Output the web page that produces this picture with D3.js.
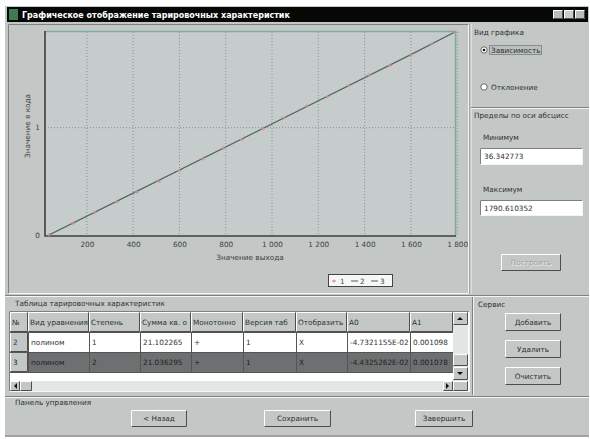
<!DOCTYPE html>
<html>
<head>
<meta charset="utf-8">
<script src="https://cdn.jsdelivr.net/npm/d3@7"></script>
<style>
  body { margin: 0; background: #fff; }
  svg { display: block; font-family: "DejaVu Sans", "Liberation Sans", sans-serif; font-size: 7.3px; }
</style>
</head>
<body>
<svg width="590" height="439"></svg>
<script>
// axis
const xLimits = [36.342773, 1790.610352];
const yLimits = [0, 1.9];
const xTickValues = [200, 400, 600, 800, 1000, 1200, 1400, 1600, 1800];
const xTickLabels = ['200', '400', '600', '800', '1 000', '1 200', '1 400', '1 600', '1 800'];
const yTickValues = [0, 1];
const yTickLabels = ['0', '1'];

// series 1: points (markers)
const pointX = [36, 140, 235, 330, 415, 510, 600, 700, 790, 870, 960, 1050, 1150, 1240, 1330, 1420, 1510, 1600, 1690, 1790];
const pointY = [0.00, 0.11, 0.21, 0.31, 0.40, 0.50, 0.60, 0.71, 0.81, 0.89, 0.99, 1.09, 1.20, 1.29, 1.39, 1.49, 1.58, 1.68, 1.78, 1.89];
// series 2 and 3: fitted curves
const fit2X = [36, 400, 800, 1200, 1600, 1790];
const fit2Y = [0.00, 0.39, 0.82, 1.25, 1.68, 1.89];
const fit3X = [36, 400, 800, 1200, 1600, 1790];
const fit3Y = [0.00, 0.39, 0.82, 1.25, 1.68, 1.89];
const legendNames = ['1', '2', '3'];

// table
const columns = ['№', 'Вид уравнения', 'Степень', 'Сумма кв. о', 'Монотонно', 'Версия таб', 'Отобразить', 'A0', 'A1'];
const rowNo = ['2', '3'];
const rowType = ['полином', 'полином'];
const rowDegree = ['1', '2'];
const rowSum = ['21.102265', '21.036295'];
const rowMono = ['+', '+'];
const rowVersion = ['1', '1'];
const rowShow = ['X', 'X'];
const rowA0 = ['-4.7321155E-02', '-4.4325262E-02'];
const rowA1 = ['0.001098', '0.001078'];

const GRAY = '#c3c8c7';
const INK = '#2e3232';
const svg = d3.select('svg');

function bevel(x, y, w, h, raised, fill) {
  const g = svg.append('g');
  g.append('rect').attr('x', x).attr('y', y).attr('width', w).attr('height', h).attr('fill', fill || GRAY);
  g.append('path').attr('d', `M${x + 0.5},${y + h - 0.5}V${y + 0.5}H${x + w - 0.5}`)
    .attr('fill', 'none').attr('stroke', raised ? '#fff' : '#7c8080');
  g.append('path').attr('d', `M${x + 0.5},${y + h - 0.5}H${x + w - 0.5}V${y + 0.5}`)
    .attr('fill', 'none').attr('stroke', raised ? '#4a4e4e' : '#f4f4f4');
  return g;
}

function button(x, y, w, h, label, disabled) {
  bevel(x, y, w, h, true);
  if (disabled) {
    svg.append('text').attr('x', x + w / 2 + 0.7).attr('y', y + h / 2 + 3.3).attr('text-anchor', 'middle')
      .attr('fill', '#f2f2f2').text(label);
  }
  svg.append('text').attr('x', x + w / 2).attr('y', y + h / 2 + 2.6).attr('text-anchor', 'middle')
    .attr('fill', disabled ? '#9a9e9e' : INK).text(label);
}

function label(x, y, t, anchor) {
  return svg.append('text').attr('x', x).attr('y', y).attr('text-anchor', anchor || 'start').attr('fill', INK).text(t);
}

// window
svg.append('rect').attr('x', 5).attr('y', 6).attr('width', 584).attr('height', 431).attr('fill', GRAY);
svg.append('rect').attr('x', 7).attr('y', 7).attr('width', 581).attr('height', 15).attr('fill', '#060806');
svg.append('rect').attr('x', 9).attr('y', 9).attr('width', 9).attr('height', 11).attr('fill', '#3f7a52');
svg.append('text').attr('x', 22).attr('y', 18).attr('fill', '#fff').attr('font-size', 8).attr('font-weight', 'bold')
  .text('Графическое отображение тарировочных характеристик');
[553, 564, 575].forEach((bx, i) => {
  bevel(bx, 10, 10, 9, true, i === 1 ? '#c8cccc' : '#b8bcbc');
});

// panels
bevel(8, 24, 461, 270, false);
svg.append('line').attr('x1', 470).attr('x2', 470).attr('y1', 24).attr('y2', 294).attr('stroke', '#7c8080');
svg.append('line').attr('x1', 471).attr('x2', 471).attr('y1', 24).attr('y2', 294).attr('stroke', '#f4f4f4');

// chart
const x = d3.scaleLinear().domain(xLimits).range([49, 455]);
const y = d3.scaleLinear().domain(yLimits).range([235, 31]);
const plot = svg.append('g');

plot.append('rect').attr('x', 45).attr('y', 31).attr('width', 410).attr('height', 205).attr('fill', '#c6cccb');

plot.append('g')
  .selectAll('line')
  .data(xTickValues)
  .join('line')
  .attr('x1', (d) => x(d)).attr('x2', (d) => x(d))
  .attr('y1', 32).attr('y2', 236)
  .attr('stroke', '#8a9090').attr('stroke-dasharray', '1,2');

plot.append('g')
  .selectAll('line')
  .data(yTickValues.filter((d) => d > 0))
  .join('line')
  .attr('x1', 45).attr('x2', 455)
  .attr('y1', (d) => y(d)).attr('y2', (d) => y(d))
  .attr('stroke', '#8a9090').attr('stroke-dasharray', '1,2');

// frame top/right
plot.append('path').attr('d', 'M45,31.5H455.5V236').attr('fill', 'none').attr('stroke', '#7faaa0').attr('stroke-width', 1.5);

const xAxis = plot.append('g').attr('transform', 'translate(0,236)')
  .call(d3.axisBottom(x).tickValues(xTickValues).tickSize(0).tickPadding(6)
    .tickFormat((d, i) => xTickLabels[i]))
  .attr('font-size', null).attr('font-family', null);
xAxis.select('.domain').remove();
xAxis.selectAll('text').attr('fill', '#3a3e3e');

const yAxis = plot.append('g').attr('transform', 'translate(45,0)')
  .call(d3.axisLeft(y).tickValues(yTickValues).tickSize(0).tickPadding(5)
    .tickFormat((d, i) => yTickLabels[i]))
  .attr('font-size', null).attr('font-family', null);
yAxis.select('.domain').remove();
yAxis.selectAll('text').attr('fill', '#3a3e3e');

plot.append('path').attr('d', 'M45,31V236H456').attr('fill', 'none').attr('stroke', '#3c4040').attr('stroke-width', 1.6);

svg.append('text').attr('x', 250).attr('y', 260).attr('text-anchor', 'middle').attr('fill', '#3a3e3e').text('Значение выхода');
svg.append('text').attr('transform', 'translate(30,126) rotate(-90)').attr('text-anchor', 'middle')
  .attr('fill', '#3a3e3e').text('Значение в кода');

const line = d3.line().x((d) => x(d[0])).y((d) => y(d[1]));
plot.append('path').datum(d3.zip(fit2X, fit2Y)).attr('d', line)
  .attr('fill', 'none').attr('stroke', '#5f7a70').attr('stroke-width', 1.2);
plot.append('path').datum(d3.zip(fit3X, fit3Y)).attr('d', line)
  .attr('fill', 'none').attr('stroke', '#58625f').attr('stroke-width', 0.8);
plot.append('g')
  .selectAll('path')
  .data(d3.zip(pointX, pointY))
  .join('path')
  .attr('d', (d) => `M${x(d[0]) - 2},${y(d[1])}h4M${x(d[0])},${y(d[1]) - 1.5}v3`)
  .attr('stroke', '#cf8a8a').attr('stroke-width', 1.2);

// legend
svg.append('rect').attr('x', 328.5).attr('y', 274.5).attr('width', 64).attr('height', 12).attr('fill', '#f6f8f8').attr('stroke', '#444');
const leg = svg.append('g').attr('transform', 'translate(331,283.5)');
legendNames.forEach((n, i) => {
  const lx = i * 20;
  if (i === 0) {
    leg.append('path').attr('d', `M${lx + 1},-2.5h4M${lx + 3},-4v3`).attr('stroke', '#cf8a8a').attr('stroke-width', 1.2);
  } else {
    leg.append('line').attr('x1', lx).attr('x2', lx + 7).attr('y1', -2.5).attr('y2', -2.5).attr('stroke', '#555');
  }
  leg.append('text').attr('x', lx + 9).attr('y', 0).attr('fill', '#444').text(n);
});

// right panel
label(474, 35, 'Вид графика');
svg.append('circle').attr('cx', 484).attr('cy', 50).attr('r', 3.2).attr('fill', '#fff').attr('stroke', '#666');
svg.append('circle').attr('cx', 484).attr('cy', 50).attr('r', 1.3).attr('fill', '#111');
svg.append('rect').attr('x', 489.5).attr('y', 45.5).attr('width', 52).attr('height', 9).attr('fill', '#b9bfbe')
  .attr('stroke', '#555').attr('stroke-dasharray', '1,1');
label(491, 52.5, 'Зависимость');
svg.append('circle').attr('cx', 484).attr('cy', 87).attr('r', 3.2).attr('fill', '#fff').attr('stroke', '#666');
label(491, 89.5, 'Отклонение');
svg.append('line').attr('x1', 471).attr('x2', 589).attr('y1', 107.5).attr('y2', 107.5).attr('stroke', '#7c8080');
svg.append('line').attr('x1', 471).attr('x2', 589).attr('y1', 108.5).attr('y2', 108.5).attr('stroke', '#f4f4f4');
label(474, 118, 'Пределы по оси абсцисс');
label(483, 140, 'Минимум');
bevel(480, 148, 103, 17, false, '#fff');
label(484, 159, String(xLimits[0]));
label(483, 192, 'Максимум');
bevel(480, 200, 103, 16, false, '#fff');
label(484, 211, xLimits[1].toFixed(6));
button(501, 254, 60, 17, 'Построить', true);

// lower area
svg.append('line').attr('x1', 5).attr('x2', 589).attr('y1', 295.5).attr('y2', 295.5).attr('stroke', '#7c8080');
svg.append('line').attr('x1', 5).attr('x2', 589).attr('y1', 296.5).attr('y2', 296.5).attr('stroke', '#f4f4f4');
label(15, 306, 'Таблица тарировочных характеристик');
label(478, 307, 'Сервис');
svg.append('line').attr('x1', 472.5).attr('x2', 472.5).attr('y1', 297).attr('y2', 395).attr('stroke', '#7c8080');
svg.append('line').attr('x1', 473.5).attr('x2', 473.5).attr('y1', 297).attr('y2', 395).attr('stroke', '#f4f4f4');

// table
const colEdges = [10, 28, 89, 140, 191, 243, 296, 347, 410, 453];
const rowTop = [332, 352];
const rowH = 20;
bevel(9, 311, 461, 81, false, '#fff');
svg.append('rect').attr('x', 10).attr('y', 312).attr('width', 443).attr('height', 20).attr('fill', GRAY);
const rows = d3.range(rowNo.length).map((i) =>
  [rowNo[i], rowType[i], rowDegree[i], rowSum[i], rowMono[i], rowVersion[i], rowShow[i], rowA0[i], rowA1[i]]);
const defs = svg.append('defs');
columns.forEach((c, j) => {
  defs.append('clipPath').attr('id', 'col' + j).append('rect')
    .attr('x', colEdges[j] + 1).attr('y', 300).attr('width', colEdges[j + 1] - colEdges[j] - 2).attr('height', 90);
});
rows.forEach((r, i) => {
  svg.append('rect').attr('x', 28).attr('y', rowTop[i]).attr('width', 425).attr('height', rowH)
    .attr('fill', i === 1 ? '#6d7070' : '#fff');
  bevel(10, rowTop[i], 18, rowH, true);
});
bevel(10, 312, 18, 20, true);
columns.forEach((c, j) => {
  if (j > 0) bevel(colEdges[j], 312, colEdges[j + 1] - colEdges[j], 20, true);
  svg.append('text').attr('x', colEdges[j] + 2).attr('y', 324.5).attr('fill', INK)
    .attr('clip-path', `url(#col${j})`).text(c);
  rows.forEach((r, i) => {
    svg.append('text').attr('x', colEdges[j] + 3).attr('y', rowTop[i] + 12.5).attr('fill', i === 1 ? '#1c1e1e' : INK)
      .attr('clip-path', `url(#col${j})`).text(r[j]);
  });
});
svg.append('g').selectAll('line').data(colEdges.slice(1, -1)).join('line')
  .attr('x1', (d) => d + 0.5).attr('x2', (d) => d + 0.5).attr('y1', 332).attr('y2', 372).attr('stroke', '#555');
svg.append('g').selectAll('line').data([332, 352, 372]).join('line')
  .attr('x1', 10).attr('x2', 453).attr('y1', (d) => d + 0.5).attr('y2', (d) => d + 0.5).attr('stroke', '#555');

// scrollbars
svg.append('rect').attr('x', 453).attr('y', 312).attr('width', 15).attr('height', 69).attr('fill', '#e3e6e6');
bevel(453, 312, 15, 13, true);
svg.append('path').attr('d', 'M457,320l3,-3l3,3z').attr('fill', '#111');
bevel(453, 354, 15, 12, true);
bevel(453, 367, 15, 13, true);
svg.append('path').attr('d', 'M457,372l3,3l3,-3z').attr('fill', '#111');
svg.append('rect').attr('x', 10).attr('y', 381).attr('width', 443).attr('height', 10).attr('fill', '#e3e6e6');
bevel(10, 381, 10, 10, true);
svg.append('path').attr('d', 'M17,383l-3,3l3,3z').attr('fill', '#111');
bevel(20, 381, 12, 10, true);
bevel(443, 381, 10, 10, true);
svg.append('path').attr('d', 'M446,383l3,3l-3,3z').attr('fill', '#111');
bevel(453, 381, 15, 10, true);

button(505, 313, 56, 18, 'Добавить');
button(505, 340, 56, 18, 'Удалить');
button(505, 367, 56, 18, 'Очистить');

// control panel
svg.append('line').attr('x1', 5).attr('x2', 589).attr('y1', 396.5).attr('y2', 396.5).attr('stroke', '#7c8080');
svg.append('line').attr('x1', 5).attr('x2', 589).attr('y1', 397.5).attr('y2', 397.5).attr('stroke', '#f4f4f4');
label(15, 405, 'Панель управления');
button(131, 410, 56, 17, '< Назад');
button(264, 410, 67, 17, 'Сохранить');
button(415, 410, 58, 17, 'Завершить');
svg.append('line').attr('x1', 5).attr('x2', 589).attr('y1', 436).attr('y2', 436).attr('stroke', '#7c8080');
</script>
</body>
</html>
